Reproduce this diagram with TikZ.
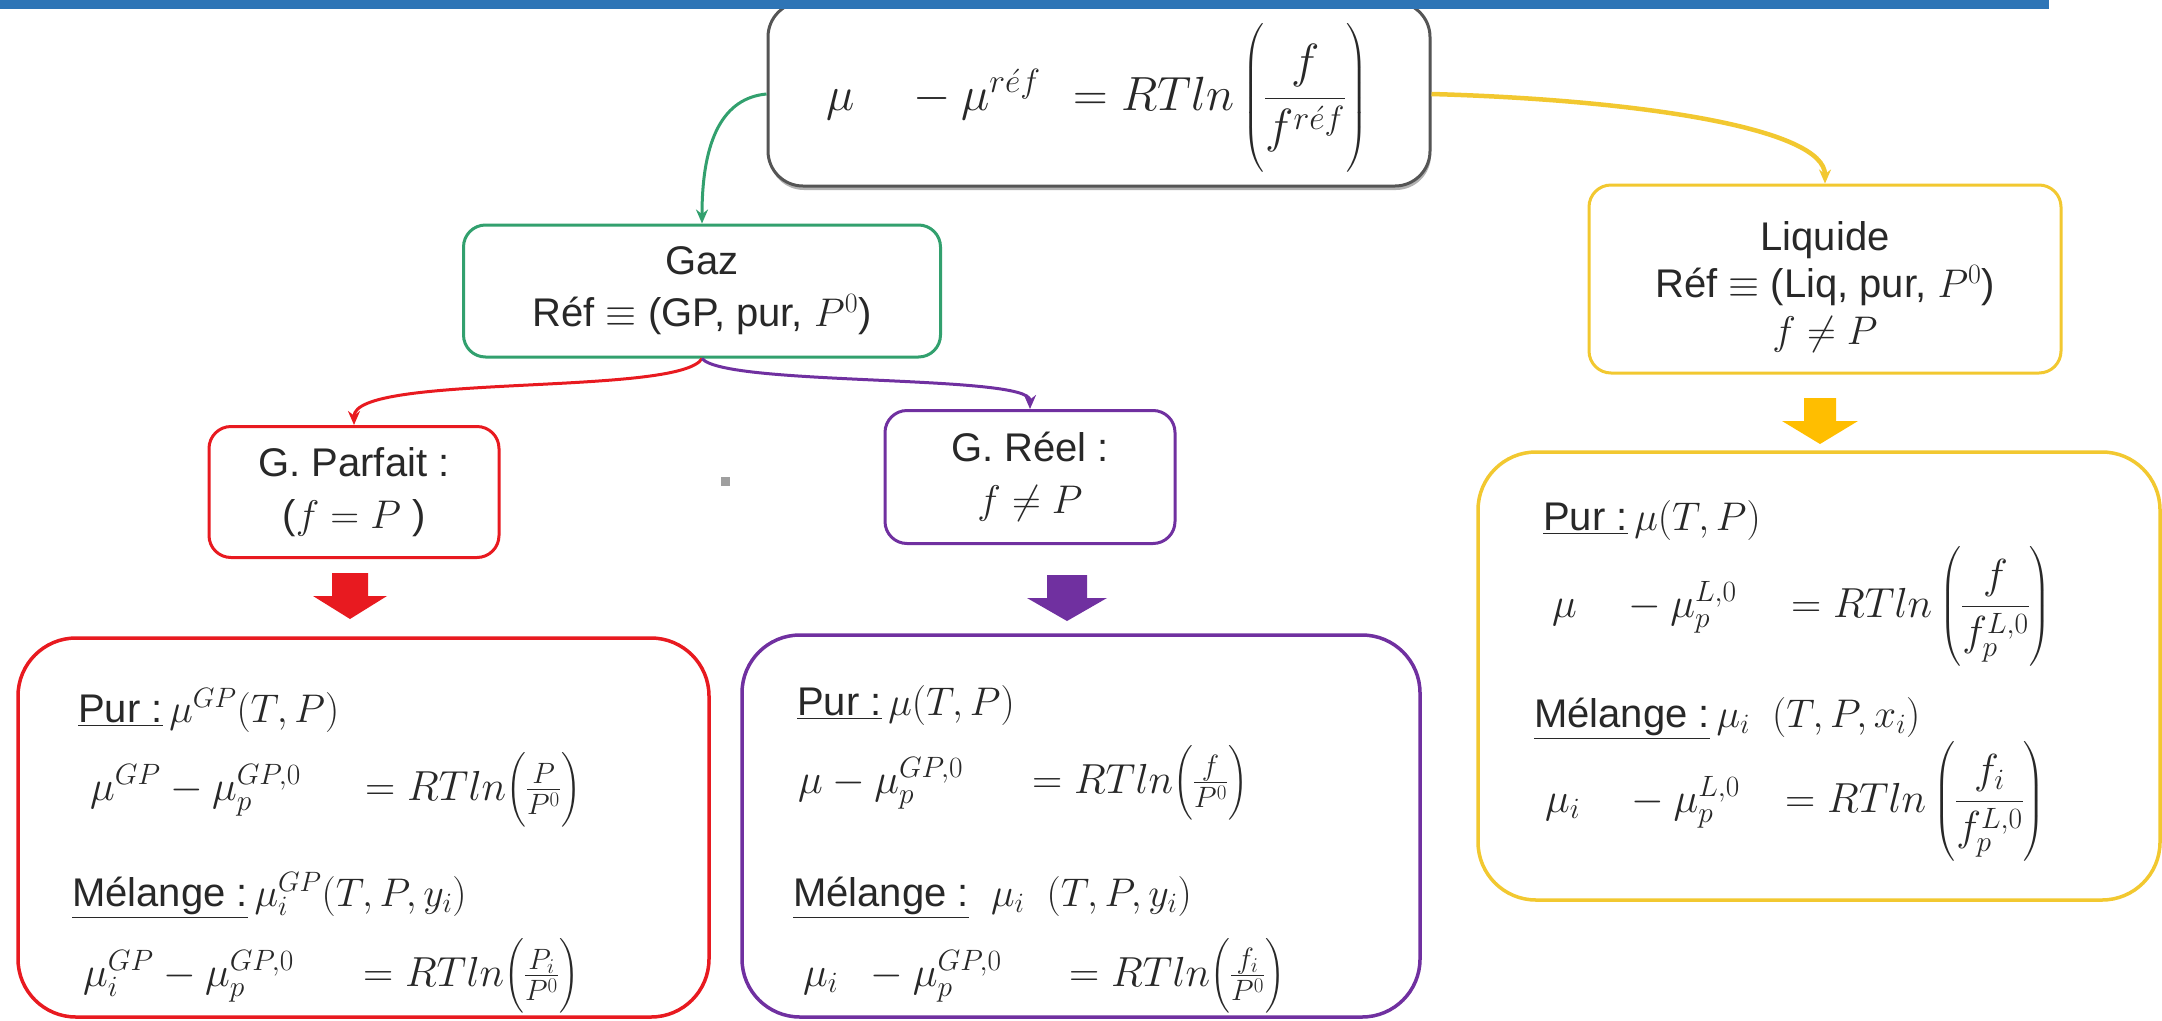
\RequirePackage{fix-cm}
\documentclass[tikz,border=0pt]{standalone}
\usepackage{amsmath}
\usepackage[no-math]{fontspec}
\setmainfont{Liberation Sans}
\usetikzlibrary{arrows.meta,shadows}
\definecolor{redc}{RGB}{232,26,32}
\definecolor{purc}{RGB}{112,48,160}
\definecolor{yelc}{RGB}{242,200,48}
\definecolor{yelarrow}{RGB}{255,190,0}
\definecolor{greenc}{RGB}{50,160,110}
\definecolor{grayc}{RGB}{85,85,85}
\definecolor{bluebar}{RGB}{46,117,182}
\definecolor{txtc}{RGB}{40,40,40}
\tikzset{
  txt/.style={font=\fontsize{40}{52}\selectfont, text=txtc, inner sep=0pt, anchor=base west},
  eqn/.style={font=\fontsize{42}{50}\selectfont, text=txtc, inner sep=0pt, anchor=base west},
  smallbox/.style={draw, line width=3pt, rounded corners=22pt, align=center, inner sep=0pt,
                   font=\fontsize{40}{52}\selectfont, text=txtc, fill=white},
  bigbox/.style={draw, line width=3.5pt, rounded corners=58pt, inner sep=0pt},
  conn/.style={line width=3pt, -{Stealth[length=14pt,width=12pt]}},
}
\newcommand\blockarr[5]{% x, y, colour, shaft half width, head half width
  \fill[#3] (#1-#4,#2) -- (#1+#4,#2) -- (#1+#4,#2+23) -- (#1+#5,#2+23) -- (#1,#2+46)
            -- (#1-#5,#2+23) -- (#1-#4,#2+23) -- cycle;}
\newcommand\ulin[1]{\underline{#1}}
\begin{document}
\begin{tikzpicture}[x=1pt,y=-1pt]
\useasboundingbox (0,0) rectangle (2162,1020);
\fill[white] (0,0) rectangle (2162,1020);

% top box
\node[smallbox, draw=grayc, minimum width=662pt, minimum height=184pt, rounded corners=35pt,
      drop shadow={shadow xshift=1pt, shadow yshift=-4pt, fill=black!60}] (top) at (1099,94) {};
\node[eqn, font=\fontsize{48}{56}\selectfont] (toplhs) at (826,110) {$\mu\quad-\mu^{r\acute{e}f}$};
\node[eqn, font=\fontsize{48}{56}\selectfont] (toprhs) at (1073,110)
  {$=RTln\left(\dfrac{f}{f^{r\acute{e}f}}\rule[-58pt]{0pt}{136pt}\right)$};

% second level
\node[smallbox, draw=greenc, minimum width=477pt, minimum height=132pt] (gaz) at (702,291)
  {Gaz\\Réf $\equiv$ (GP, pur, $P^0$)};
\node[smallbox, draw=yelc, minimum width=472pt, minimum height=188pt] (liq) at (1825,279) {};
\node[align=center, font=\fontsize{40}{47}\selectfont, text=txtc, inner sep=0pt] (liqtxt) at (1825,287)
  {Liquide\\Réf $\equiv$ (Liq, pur, $P^0$)\\$f\neq P$};

% third level
\node[smallbox, draw=redc, minimum width=290pt, minimum height=131pt] (gpar) at (354,492)
  {G. Parfait :\\($f=P$ )};
\node[smallbox, draw=purc, minimum width=290pt, minimum height=133pt] (greel) at (1030,477)
  {G. Réel :\\$f\neq P$};
\node[fill=gray!75, minimum size=9pt, inner sep=0pt] (dot) at (725,481) {};

% connectors
\draw[conn, greenc] (top.west) .. controls +(-43,4) and +(0,-85) .. (gaz.north);
\draw[conn, yelc, line width=4.5pt] (top.east) .. controls +(210,6) and +(0,-55) .. (liq.north);
\draw[conn, redc] (gaz.south) .. controls +(-22,38) and +(0,-52) .. (gpar.north);
\draw[conn, purc] (gaz.south) .. controls +(23,28) and +(0,-35) .. (greel.north);

% block arrows
\blockarr{350}{573}{redc}{18}{37}
\blockarr{1067}{575}{purc}{20}{40}
\blockarr{1820}{398}{yelarrow}{16}{38}

% big boxes
\node[bigbox, draw=redc, minimum width=691pt, minimum height=379pt] (redbig) at (363.5,827.5) {};
\node[bigbox, draw=purc, minimum width=678pt, minimum height=382pt] (purbig) at (1081,826) {};
\node[bigbox, draw=yelc, minimum width=682pt, minimum height=448pt] (liqbig) at (1819,676) {};

% red box content
\node[txt] (rpur) at (78,722) {\ulin{Pur :}\,$\mu^{GP}(T,P)$};
\node[eqn] (req1l) at (90,800) {$\mu^{GP}-\mu_p^{GP,0}$};
\node[eqn] (req1r) at (365,800) {$=RTln\Bigl(\frac{P}{P^0}\Bigr)$};
\node[txt] (rmel) at (72,906) {\ulin{Mélange :}\,$\mu_i^{GP}(T,P,y_i)$};
\node[eqn] (req2l) at (83,986) {$\mu_i^{GP}-\mu_p^{GP,0}$};
\node[eqn] (req2r) at (363,986) {$=RTln\Bigl(\frac{P_i}{P^0}\Bigr)$};

% purple box content
\node[txt] (ppur) at (797,715) {\ulin{Pur :}\,$\mu(T,P)$};
\node[eqn] (peq1l) at (798,793) {$\mu-\mu_p^{GP,0}$};
\node[eqn] (peq1r) at (1032,793) {$=RTln\Bigl(\frac{f}{P^0}\Bigr)$};
\node[txt] (pmel) at (793,906) {\ulin{Mélange :}\ \ $\mu_i\ \ (T,P,y_i)$};
\node[eqn] (peq2l) at (803,986) {$\mu_i\ \ -\mu_p^{GP,0}$};
\node[eqn] (peq2r) at (1069,986) {$=RTln\Bigl(\frac{f_i}{P^0}\Bigr)$};

% liquid box content
\node[txt] (lpur) at (1543,530) {\ulin{Pur :}\,$\mu(T,P)$};
\node[eqn] (leq1l) at (1552,617) {$\mu\quad-\mu_p^{L,0}$};
\node[eqn] (leq1r) at (1791,617) {$=RTln\left(\dfrac{f}{f_p^{L,0}}\right)$};
\node[txt] (lmel) at (1534,727) {\ulin{Mélange :}\,$\mu_i\ \ (T,P,x_i)$};
\node[eqn] (leq2l) at (1545,812) {$\mu_i\quad-\mu_p^{L,0}$};
\node[eqn] (leq2r) at (1785,812) {$=RTln\left(\dfrac{f_i}{f_p^{L,0}}\right)$};

% top blue rule
\fill[bluebar] (0,0) rectangle (2049,9);
\end{tikzpicture}
\end{document}
